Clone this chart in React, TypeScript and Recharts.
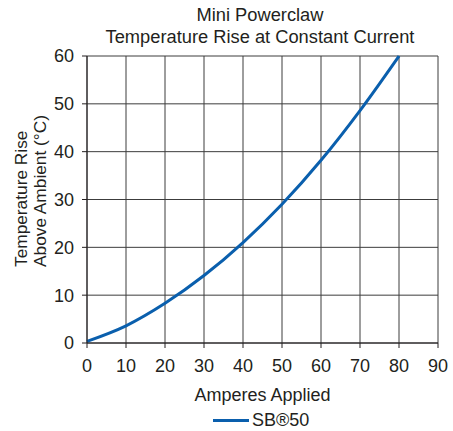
import React from "react";
import {
  LineChart,
  Line,
  XAxis,
  YAxis,
  CartesianGrid,
} from "recharts";

// values
const amperes = [0, 10, 20, 30, 40, 50, 60, 70, 80];
const tempRise = [0.35, 3.6, 8.3, 14.1, 21.0, 29.0, 38.2, 48.6, 60];
const xTicks = [0, 10, 20, 30, 40, 50, 60, 70, 80, 90];
const yTicks = [0, 10, 20, 30, 40, 50, 60];

const data = amperes.map((a, i) => ({ amps: a, rise: tempRise[i] }));

const FONT = "'Liberation Sans', Arial, sans-serif";
const TEXT = "#231f20";
const BLUE = "#0a5fad";

const YLabel = () => (
  <g>
    <text
      x={0}
      y={0}
      transform="translate(26.5, 267) rotate(-90)"
      textAnchor="start"
      fontSize={17.3}
      fill={TEXT}
      fontFamily={FONT}
    >
      Temperature Rise
    </text>
    <text
      x={0}
      y={0}
      transform="translate(45.5, 267) rotate(-90)"
      textAnchor="start"
      fontSize={17.3}
      fill={TEXT}
      fontFamily={FONT}
    >
      Above Ambient (°C)
    </text>
  </g>
);

export default function App() {
  return (
    <div
      style={{
        position: "absolute",
        left: 0,
        top: 0,
        width: 453,
        height: 431,
        background: "#fff",
        fontFamily: FONT,
        color: TEXT,
      }}
    >
      <div
        style={{
          position: "absolute",
          top: 4,
          left: 60,
          width: 400,
          textAlign: "center",
          fontSize: 18.3,
          lineHeight: "22px",
        }}
      >
        Mini Powerclaw
        <br />
        Temperature Rise at Constant Current
      </div>
      <LineChart
        width={453}
        height={431}
        data={data}
        margin={{ top: 56, right: 15, left: 47, bottom: 58 }}
      >
        <CartesianGrid stroke="#3c3c3c" strokeWidth={1} />
        <XAxis
          dataKey="amps"
          type="number"
          domain={[0, 90]}
          ticks={xTicks}
          height={30}
          tickSize={5}
          tickMargin={11}
          stroke="#231f20"
          tick={{ fill: TEXT, fontSize: 18, fontFamily: FONT }}
          interval={0}
          label={{
            value: "Amperes Applied",
            position: "insideBottom",
            offset: -28,
            fill: TEXT,
            fontSize: 18,
            fontFamily: FONT,
          }}
        />
        <YAxis
          type="number"
          domain={[0, 60]}
          ticks={yTicks}
          width={40}
          tickSize={5}
          tickMargin={8}
          stroke="#231f20"
          tick={{ fill: TEXT, fontSize: 18, fontFamily: FONT }}
          interval={0}
          label={<YLabel />}
        />
        <Line
          type="monotone"
          dataKey="rise"
          stroke={BLUE}
          strokeWidth={3}
          dot={false}
          isAnimationActive={false}
        />
      </LineChart>
      <div
        style={{
          position: "absolute",
          top: 410,
          left: 213,
          display: "flex",
          alignItems: "center",
          fontSize: 18,
          lineHeight: "20px",
        }}
      >
        <span
          style={{
            display: "inline-block",
            width: 36,
            height: 3,
            background: BLUE,
            marginRight: 3,
          }}
        />
        SB®50
      </div>
    </div>
  );
}
